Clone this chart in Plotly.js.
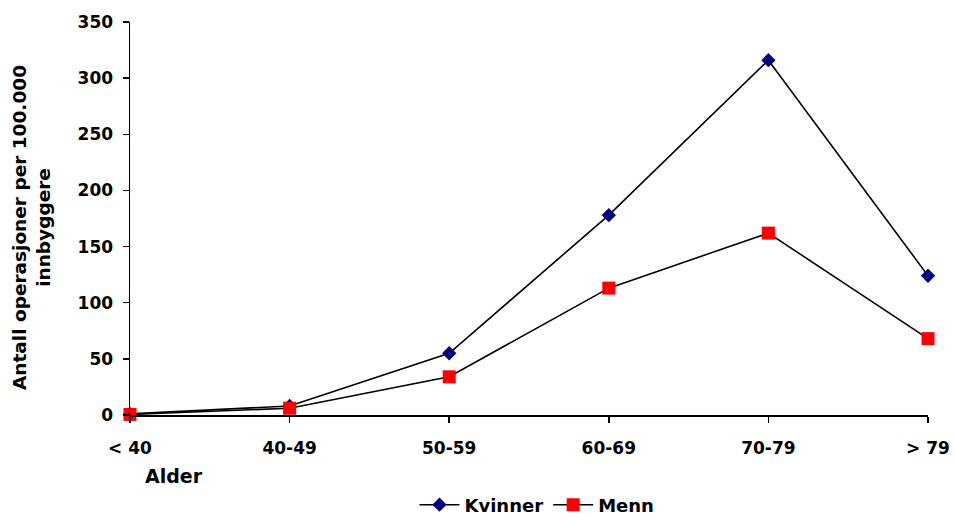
<!DOCTYPE html>
<html>
<head>
<meta charset="utf-8">
<script src="https://cdn.plot.ly/plotly-3.0.1.min.js"></script>
<style>html,body{margin:0;padding:0;background:#fff;}#chart{width:954px;height:519px;}</style>
</head>
<body>
<div id="chart"></div>
<script>
const categories = ["< 40", "40-49", "50-59", "60-69", "70-79", "> 79"];
const kvinner = [1, 8, 55, 178, 316, 124];
const menn = [0.5, 6, 34, 113, 162, 68];
const yTicks = [0, 50, 100, 150, 200, 250, 300, 350];

const fam = "DejaVu Sans, Liberation Sans, Arial, sans-serif";
const idx = categories.map((c, i) => i);

const data = [
  {x: idx, y: kvinner, name: "Kvinner", type: "scatter", mode: "lines+markers",
   cliponaxis: false,
   line: {color: "#000", width: 1.6},
   marker: {symbol: "diamond", color: "#000080", size: 11}},
  {x: idx, y: menn, name: "Menn", type: "scatter", mode: "lines+markers",
   cliponaxis: false,
   line: {color: "#000", width: 1.6},
   marker: {symbol: "square", color: "#ff0000", size: 13}}
];

const layout = {
  width: 954, height: 519,
  margin: {l: 130, r: 26, t: 22, b: 104, autoexpand: false},
  paper_bgcolor: "#fff", plot_bgcolor: "#fff",
  font: {family: fam, size: 17, color: "#000"},
  showlegend: true,
  legend: {orientation: "h", x: 0.51, xanchor: "center", y: (415 - 505) / 393, yanchor: "middle",
           itemwidth: 40,
           font: {family: fam, size: 18, color: "#000", weight: "bold"}},
  xaxis: {
    range: [0, 5], tickvals: idx, ticktext: categories,
    showgrid: false, zeroline: false, showline: true, linecolor: "#000", linewidth: 1.5,
    ticks: "outside", ticklen: 6, tickcolor: "#000", tickwidth: 1.5,
    ticklabelstandoff: 11, automargin: false,
    tickfont: {family: fam, size: 17, color: "#000", weight: "bold"},
    fixedrange: true
  },
  yaxis: {
    range: [0, 350], tickvals: yTicks,
    showgrid: false, zeroline: false, showline: true, linecolor: "#000", linewidth: 1.5,
    ticks: "outside", ticklen: 6, tickcolor: "#000", tickwidth: 1.5,
    ticklabelstandoff: 6, automargin: false,
    tickfont: {family: fam, size: 17, color: "#000", weight: "bold"},
    fixedrange: true
  },
  annotations: [
    {text: "Alder", xref: "paper", yref: "paper", x: (174 - 130) / 798, y: (415 - 476) / 393,
     xanchor: "center", yanchor: "middle", showarrow: false,
     font: {family: fam, size: 19, color: "#000", weight: "bold"}},
    {text: "Antall operasjoner per 100.000<br>innbyggere", xref: "paper", yref: "paper",
     x: (31 - 130) / 798, y: (415 - 228) / 393, xanchor: "center", yanchor: "middle",
     textangle: -90, showarrow: false,
     font: {family: fam, size: 18.5, color: "#000", weight: "bold"}}
  ]
};

Plotly.newPlot("chart", data, layout, {displayModeBar: false, staticPlot: true});
</script>
</body>
</html>
